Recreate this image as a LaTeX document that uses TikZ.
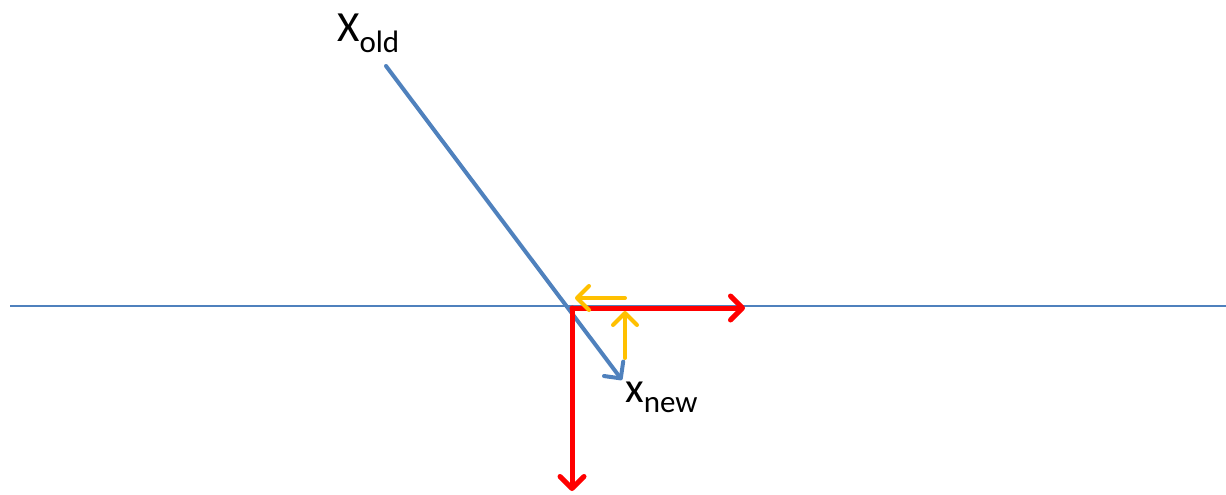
\documentclass[tikz,border=0pt]{standalone}
\usepackage{fontspec}
\setmainfont{Carlito}
\usetikzlibrary{arrows.meta}
\definecolor{cblue}{HTML}{4F81BD}
\definecolor{cred}{HTML}{FF0000}
\definecolor{cyel}{HTML}{FFC000}
\newcommand{\subtxt}[1]{\raisebox{-10pt}{\fontsize{31}{33}\selectfont #1}}
\begin{document}
\begin{tikzpicture}[x=1pt,y=-1pt,
  barb/.style={-{Straight Barb[length=12pt,width=24pt,round]}, line cap=round},
  lbl/.style={inner sep=0pt, font=\fontsize{43}{46}\selectfont}]
\useasboundingbox (0,0) rectangle (1226,495);
\coordinate (hl) at (10,306);
\coordinate (hr) at (1226,306);
\draw[cblue, line width=1.3pt] (hl) -- (hr);
\coordinate (ostart) at (386,66);
\coordinate (nend) at (622,380);
\draw[cblue, line width=4pt, barb] (ostart) -- (nend);
\coordinate (corner) at (572,308);
\coordinate (rdown) at (572,491);
\coordinate (rright) at (745,308);
\draw[cred, line width=5pt, barb] (corner) -- (rdown);
\draw[cred, line width=5pt, barb] (corner) -- (rright);
\coordinate (ys) at (625,298);
\coordinate (ye) at (575,298);
\coordinate (yv) at (625,358);
\coordinate (yt) at (625,311);
\draw[cyel, line width=4pt, barb] (ys) -- (ye);
\draw[cyel, line width=4pt, barb] (yv) -- (yt);
\node[lbl, anchor=base west] (old) at (337,42) {X\subtxt{old}};
\node[lbl, anchor=base west] (new) at (625,402) {x\subtxt{new}};
\end{tikzpicture}
\end{document}
